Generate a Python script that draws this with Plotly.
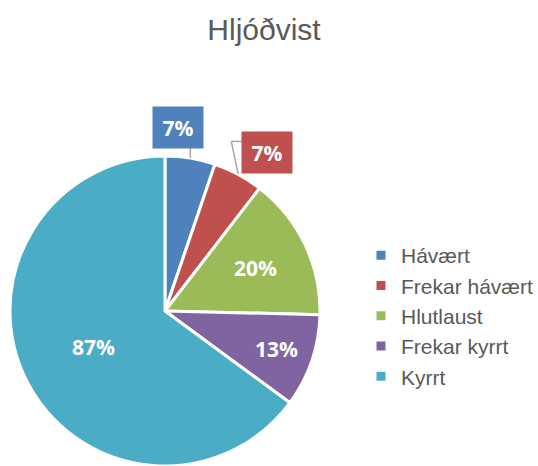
import math
import plotly.graph_objects as go

# Survey answers on noise level (Hljóðvist)
categories = ["Hávært", "Frekar hávært", "Hlutlaust", "Frekar kyrrt", "Kyrrt"]
values = [7, 7, 20, 13, 87]
colors = ["#4F81BD", "#C0504D", "#9BBB59", "#8064A2", "#4BACC6"]

W, H = 538, 466
CX, CY, R = 165, 311, 155  # pie centre / radius in pixels

fig = go.Figure()
fig.add_trace(go.Pie(
    labels=categories,
    values=values,
    sort=False,
    direction="clockwise",
    rotation=0,
    marker=dict(colors=colors, line=dict(color="white", width=3)),
    textinfo="none",
    hoverinfo="label+value",
    domain=dict(x=[(CX - R) / W, (CX + R) / W], y=[0, 2 * R / H]),
))

total = sum(values)
cum = 0
mids = []
for v in values:
    mids.append((cum + v / 2) / total * 2 * math.pi)
    cum += v


def to_paper(px, py):
    return px / W, 1 - py / H


def polar(angle, frac):
    return CX + frac * R * math.sin(angle), CY - frac * R * math.cos(angle)


label_font = dict(family="Open Sans", size=21, color="white", weight="bold")
annotations = []
shapes = []


def label(px, py, text, **extra):
    x, y = to_paper(px, py)
    annotations.append(dict(x=x, y=y, xref="paper", yref="paper", text=text,
                            showarrow=False, font=label_font,
                            xanchor="center", yanchor="middle", **extra))


# inside labels for the larger slices
inside_frac = {2: 0.65, 3: 0.76, 4: 0.52}
for i, frac in inside_frac.items():
    px, py = polar(mids[i], frac)
    label(px, py, f"{values[i]}%")

# boxed outside labels for the two small slices, with leader lines
line_style = dict(color="#A6A6A6", width=1.5)
BW, BH = 48, 39


def seg(x0, y0, x1, y1):
    p0 = to_paper(x0, y0)
    p1 = to_paper(x1, y1)
    shapes.append(dict(type="line", xref="paper", yref="paper",
                       x0=p0[0], y0=p0[1], x1=p1[0], y1=p1[1],
                       line=line_style))


# slice 0: box straight above the slice edge
ex, ey = polar(mids[0], 1.0)
bx, by = ex - 12, ey - 31
seg(ex, ey, ex, by + BH / 2)
label(bx, by, f"{values[0]}%", bgcolor=colors[0], width=BW, height=BH)

# slice 1: box up and to the right, elbowed leader
ex, ey = polar(mids[1], 1.0)
kx, ky = ex - 7, ey - 33
bx, by = ex + 29, ey - 22
seg(ex, ey, kx, ky)
seg(kx, ky, bx - BW / 2, ky)
label(bx, by, f"{values[1]}%", bgcolor=colors[1], width=BW, height=BH)

fig.update_layout(
    width=W, height=H,
    margin=dict(l=0, r=0, t=0, b=0, autoexpand=False),
    paper_bgcolor="white",
    title=dict(text="Hljóðvist", x=264 / W, xanchor="center",
               y=0.936, yanchor="middle",
               font=dict(family="Liberation Sans", size=30, color="#595959")),
    legend=dict(x=361 / W, xanchor="left", y=1 - 316 / H, yanchor="middle",
                font=dict(family="Liberation Sans", size=21, color="#595959"),
                bgcolor="rgba(0,0,0,0)", itemclick=False),
    annotations=annotations,
    shapes=shapes,
)

fig.write_html("out.html")
